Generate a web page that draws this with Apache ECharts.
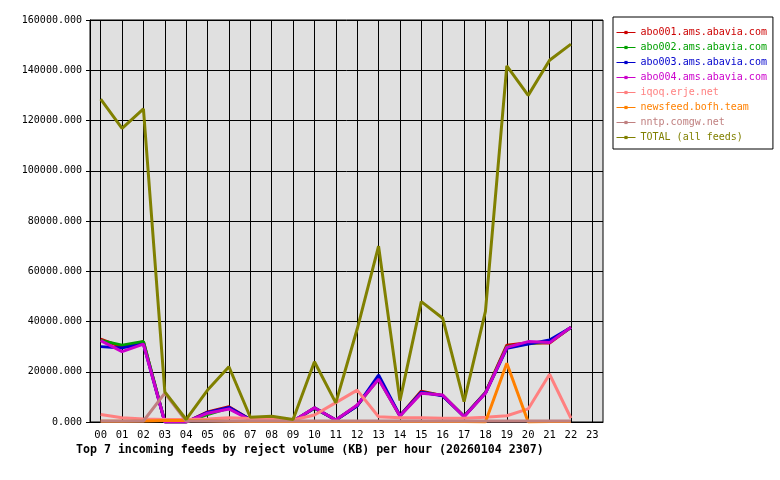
<!DOCTYPE html>
<html><head><meta charset="utf-8">
<script src="https://cdn.jsdelivr.net/npm/echarts@6/dist/echarts.min.js"></script>
<style>html,body{margin:0;padding:0;background:#fff}#c{width:780px;height:480px}</style>
</head><body><div id="c"></div>
<script>
var hours = ['00','01','02','03','04','05','06','07','08','09','10','11','12','13','14','15','16','17','18','19','20','21','22','23'];
var seriesNames = ['abo001.ams.abavia.com','abo002.ams.abavia.com','abo003.ams.abavia.com','abo004.ams.abavia.com','iqoq.erje.net','newsfeed.bofh.team','nntp.comgw.net','TOTAL (all feeds)'];
var seriesColors = ['#cc0000','#00a000','#0000cc','#cc00cc','#ff8080','#ff8000','#c08080','#808000'];
var abo001 = [33000,29800,32000,0,0,4000,6100,1000,800,300,5600,800,6500,17500,2500,12300,10500,2300,11700,30600,31500,31400,37700,null];
var abo002 = [32500,30600,32000,0,0,3000,5500,1000,800,300,5500,800,6600,17200,2400,11800,10600,2200,11600,30000,31200,31800,37600,null];
var abo003 = [30000,29500,31000,0,0,3800,5800,1000,800,300,5600,800,6400,18700,2500,11800,10400,2200,11500,29300,31000,32600,37600,null];
var abo004 = [32400,28000,31000,0,0,3500,5200,800,700,300,5700,800,6800,17000,2400,11400,10700,2100,11400,29700,32000,31600,37700,null];
var iqoq = [3000,1700,1200,1000,1000,1200,1700,1400,1200,800,2800,7700,12700,2100,1700,1700,1500,1500,1900,2500,5200,19000,1500,null];
var newsfeed = [300,300,400,600,600,500,300,200,200,200,200,200,200,200,200,200,200,200,0,23400,0,200,200,null];
var nntp = [400,400,400,11500,400,400,400,400,400,400,400,400,400,400,400,400,400,400,400,400,400,400,400,null];
var total = [128500,116900,124600,12000,1000,12700,22000,1900,2300,1000,24000,7600,37000,70000,8500,47900,41300,8100,44000,141700,130000,144000,150400,null];
var yTicks = [0,20000,40000,60000,80000,100000,120000,140000,160000];

var allData = [abo001,abo002,abo003,abo004,iqoq,newsfeed,nntp,total];
var font = 'DejaVu Sans Mono';
var chart = echarts.init(document.getElementById('c'), null, {renderer:'canvas'});
chart.setOption({
  animation:false,
  backgroundColor:'#ffffff',
  title:{text:'Top 7 incoming feeds by reject volume (KB) per hour (20260104 2307)', left:76, top:444, padding:0,
    textStyle:{fontFamily:font, fontSize:11.6, fontWeight:'bold', color:'#000'}},
  legend:{orient:'vertical', left:613, top:17, padding:[10,6,6,3], itemGap:4, itemWidth:19, itemHeight:4,
    backgroundColor:'#fff', borderColor:'#000', borderWidth:1, borderRadius:0,
    lineStyle:{width:1},
    textStyle:{fontFamily:font, fontSize:10, lineHeight:11},
    data: seriesNames.map(function(n,i){return {name:n, textStyle:{color:seriesColors[i]},
      itemStyle:{color:seriesColors[i]}};})},
  grid:{left:90, top:20, right:177, bottom:58, show:true, backgroundColor:'#e0e0e0', borderColor:'#000', borderWidth:1, containLabel:false},
  xAxis:{type:'category', data:hours, boundaryGap:true,
    axisLine:{lineStyle:{color:'#000', width:1}},
    axisTick:{show:true, alignWithLabel:true, interval:0, inside:true, length:402, lineStyle:{color:'#000', width:1}},
    axisLabel:{interval:0, margin:8, fontFamily:font, fontSize:10.5, color:'#000'},
    splitLine:{show:false}},
  yAxis:{type:'value', min:0, max:160000, interval:20000,
    axisLine:{show:true, lineStyle:{color:'#000'}},
    axisTick:{show:true, length:4, lineStyle:{color:'#000'}},
    axisLabel:{margin:8, fontFamily:font, fontSize:10, color:'#000', formatter:function(v){return v.toFixed(3);}},
    splitLine:{show:true, lineStyle:{color:'#000', width:1}}},
  series: allData.map(function(d,i){
    return {name:seriesNames[i], type:'line', data:d, color:seriesColors[i], symbol:'rect', symbolSize:4, showSymbol:false,
      lineStyle:{width:3, color:seriesColors[i]}, itemStyle:{color:seriesColors[i]}, z:2+i, connectNulls:false};
  })
});
</script></body></html>
